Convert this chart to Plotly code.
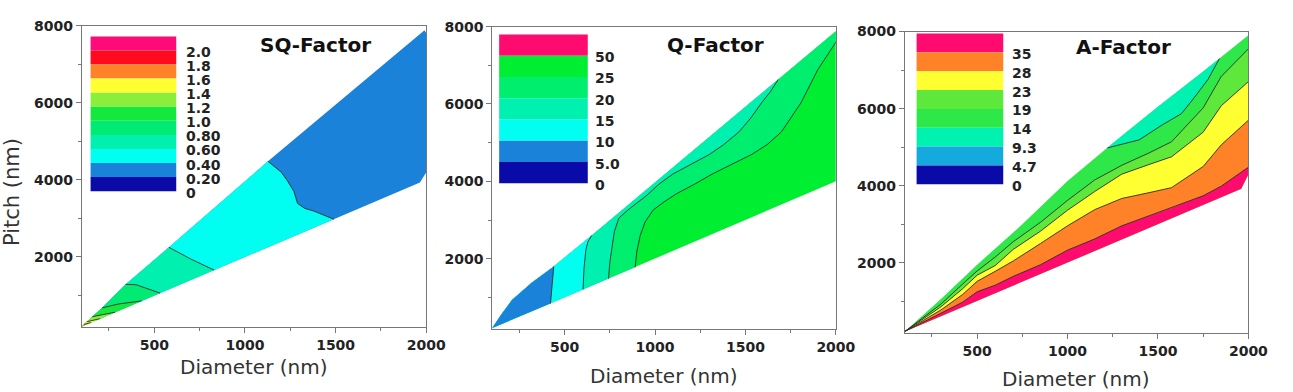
import plotly.graph_objects as go

# ---------------- data ----------------
X_RANGE = [100, 2000]
Y_RANGE = [175, 8000]
X_TICKS = [500, 1000, 1500, 2000]
Y_TICKS = [2000, 4000, 6000, 8000]

# Panel 1 : SQ-Factor  (wedge edges and contour lines, Diameter D / Pitch P)
SQ_UPPER_D = [100, 128, 159, 213, 343, 581, 1127, 1990, 2000]
SQ_UPPER_P = [200, 320, 450, 680, 1290, 2250, 4480, 7880, 7800]
SQ_LOWER_D = [100, 1965, 2000]
SQ_LOWER_P = [200, 3930, 4200]
SQ_C040_D = [1127, 1200, 1235, 1270, 1290, 1330, 1380, 1490]
SQ_C040_P = [4480, 4200, 3970, 3700, 3390, 3260, 3190, 2980]
SQ_C060_D = [581, 700, 830]
SQ_C060_P = [2250, 1950, 1660]
SQ_C080_D = [343, 400, 532]
SQ_C080_P = [1290, 1280, 1064]
SQ_C100_D = [213, 304, 430]
SQ_C100_P = [680, 782, 860]
SQ_C120_D = [159, 284]
SQ_C120_P = [450, 568]
SQ_C140_D = [128, 200]
SQ_C140_P = [320, 400]
SQ_C160_D = [112, 150]
SQ_C160_P = [250, 300]
SQ_LEVEL_LABELS = ["2.0", "1.8", "1.6", "1.4", "1.2", "1.0", "0.80", "0.60", "0.40", "0.20", "0"]

# Panel 2 : Q-Factor
Q_UPPER_D = [100, 150, 209, 318, 440, 650, 1000, 1500, 1681, 2000]
Q_UPPER_P = [210, 560, 930, 1380, 1800, 2600, 3970, 5925, 6632, 7880]
Q_LOWER_D = [100, 2000]
Q_LOWER_P = [210, 4000]
Q_C05_D = [440, 430, 422]
Q_C05_P = [1800, 1300, 844]
Q_C10_D = [650, 630, 618, 607, 602]
Q_C10_P = [2600, 2450, 2245, 1740, 1204]
Q_C15_D = [1681, 1640, 1589, 1530, 1463, 1380, 1300, 1200, 1098, 1020, 950, 850, 800, 775, 762, 750, 743]
Q_C15_P = [6632, 6330, 6030, 5640, 5273, 4950, 4693, 4440, 4188, 3920, 3620, 3260, 3050, 2700, 2300, 1900, 1486]
Q_C20_D = [2000, 1950, 1900, 1807, 1698, 1620, 1534, 1420, 1316, 1220, 1120, 1050, 989, 945, 918, 900, 890]
Q_C20_P = [7596, 7250, 6886, 6030, 5273, 4950, 4693, 4430, 4188, 3930, 3683, 3470, 3254, 2950, 2598, 2200, 1780]
Q_LEVEL_LABELS = ["50", "25", "20", "15", "10", "5.0", "0"]

# Panel 3 : A-Factor
A_UPPER_D = [100, 300, 500, 750, 1000, 1250, 1500, 1750, 2000]
A_UPPER_P = [220, 1060, 1950, 3000, 4120, 5100, 6050, 6960, 7900]
A_LOWER_D = [100, 1960, 2000]
A_LOWER_P = [220, 3920, 4300]
A_LINE_D = [100, 300, 420, 500, 600, 700, 850, 1000, 1150, 1300, 1450, 1575, 1750, 1850, 2000]
A_C35_P = [220, 700, 980, 1250, 1420, 1650, 1950, 2330, 2620, 2960, 3220, 3420, 3740, 3990, 4480]
A_C28_P = [220, 780, 1180, 1520, 1780, 2050, 2500, 2960, 3380, 3670, 3820, 3950, 4500, 5060, 5700]
A_C23_P = [220, 860, 1330, 1680, 1930, 2350, 2820, 3365, 3850, 4300, 4550, 4750, 5390, 6074, 6700]
A_C19_P = [220, 930, 1450, 1790, 2150, 2550, 3050, 3620, 4150, 4530, 4850, 5140, 6020, 6834, 7550]
A_C14_D = [1220, 1300, 1396, 1521, 1630, 1700, 1777, 1840]
A_C14_P = [4980, 5080, 5190, 5570, 5870, 6280, 6760, 7300]
A_LEVEL_LABELS = ["35", "28", "23", "19", "14", "9.3", "4.7", "0"]

# ---------------- styles ----------------
SQ_COLORS = ['#ff0a78', '#ff0a1e', '#ff8228', '#ffff32', '#8cee3c', '#14e83c',
             '#00ea74', '#00f0b0', '#00fff0', '#1a82d8', '#0a0aa8']
Q_COLORS = ['#ff0a6e', '#00ee32', '#00ee6e', '#00f0b0', '#00fff0', '#1a82d8', '#0a0aa8']
A_COLORS = ['#ff0a6e', '#ff8228', '#ffff32', '#5ee83c', '#2ee84a', '#00f2b0', '#14aade', '#0a0aa8']
LINE_COLOR = '#2e2e2e'
W, H = 1293, 392
FONT = 'DejaVu Sans'

fig = go.Figure()


def fill(xs, ys, color, ax):
    fig.add_trace(go.Scatter(x=xs, y=ys, fill='toself', fillcolor=color, mode='lines',
                             line=dict(width=0), hoverinfo='skip', showlegend=False,
                             xaxis=ax[0], yaxis=ax[1]))


def line(xs, ys, ax):
    fig.add_trace(go.Scatter(x=xs, y=ys, mode='lines',
                             line=dict(color=LINE_COLOR, width=0.9),
                             hoverinfo='skip', showlegend=False, xaxis=ax[0], yaxis=ax[1]))


def wedge(ud, up, ld, lp):
    return list(ud) + list(ld[::-1]), list(up) + list(lp[::-1])


def left_of(ud, up, cd, cp):
    xs = [d for d in ud if d <= cd[0]] + list(cd) + [ud[0]]
    ys = [p for d, p in zip(ud, up) if d <= cd[0]] + list(cp) + [up[0]]
    return xs, ys


def below(ld, lp, cd, cp):
    return list(ld) + list(cd[::-1]), list(lp) + list(cp[::-1])


# ---- panel 1
ax1 = ('x', 'y')
fill(*wedge(SQ_UPPER_D, SQ_UPPER_P, SQ_LOWER_D, SQ_LOWER_P), SQ_COLORS[9], ax1)
sq_lines = [(SQ_C040_D, SQ_C040_P), (SQ_C060_D, SQ_C060_P), (SQ_C080_D, SQ_C080_P),
            (SQ_C100_D, SQ_C100_P), (SQ_C120_D, SQ_C120_P), (SQ_C140_D, SQ_C140_P),
            (SQ_C160_D, SQ_C160_P)]
for i, (cd, cp) in enumerate(sq_lines):
    fill(*left_of(SQ_UPPER_D, SQ_UPPER_P, cd, cp), SQ_COLORS[8 - i], ax1)
for cd, cp in sq_lines:
    line(cd, cp, ax1)

# ---- panel 2
ax2 = ('x2', 'y2')
fill(*wedge(Q_UPPER_D, Q_UPPER_P, Q_LOWER_D, Q_LOWER_P), Q_COLORS[1], ax2)
q_lines = [(Q_C20_D, Q_C20_P), (Q_C15_D, Q_C15_P), (Q_C10_D, Q_C10_P), (Q_C05_D, Q_C05_P)]
for i, (cd, cp) in enumerate(q_lines):
    fill(*left_of(Q_UPPER_D, Q_UPPER_P, cd, cp), Q_COLORS[2 + i], ax2)
for cd, cp in q_lines:
    line(cd, cp, ax2)

# ---- panel 3
ax3 = ('x3', 'y3')
fill(*wedge(A_UPPER_D, A_UPPER_P, A_LOWER_D, A_LOWER_P), A_COLORS[4], ax3)
aq_x = list(A_C14_D) + [d for d in A_UPPER_D if A_C14_D[0] < d < A_C14_D[-1]][::-1]
aq_y = list(A_C14_P) + [p for d, p in zip(A_UPPER_D, A_UPPER_P) if A_C14_D[0] < d < A_C14_D[-1]][::-1]
fill(aq_x, aq_y, A_COLORS[5], ax3)
a_lines = [A_C19_P, A_C23_P, A_C28_P, A_C35_P]
for i, cp in enumerate(a_lines):
    fill(*below(A_LOWER_D, A_LOWER_P, A_LINE_D, cp), A_COLORS[3 - i], ax3)
line(A_C14_D, A_C14_P, ax3)
for cp in a_lines:
    line(A_LINE_D, cp, ax3)

# ---------------- layout ----------------
panels = [  # (x0, x1, ytop, ybottom) in pixels
    (83, 433, 18, 326),
    (500, 849, 19, 328),
    (919, 1268, 24, 332),
]

tickfont = dict(family=FONT, size=14, color='#222', weight='bold')
axis_common = dict(showline=True, linecolor='#777', linewidth=1, mirror=True,
                   ticks='outside', ticklen=5, tickcolor='#777', showgrid=False,
                   zeroline=False, tickfont=tickfont)

layout = dict(width=W, height=H, margin=dict(l=0, r=0, t=0, b=0),
              paper_bgcolor='white', plot_bgcolor='white', showlegend=False)
for i, (x0, x1, yt, yb) in enumerate(panels):
    sfx = '' if i == 0 else str(i + 1)
    layout['xaxis' + sfx] = dict(axis_common, domain=[x0 / W, x1 / W], range=X_RANGE,
                                 tickvals=X_TICKS, anchor='y' + sfx,
                                 minor=dict(ticks='outside', ticklen=3, dtick=250, tick0=0,
                                            tickcolor='#777'))
    layout['yaxis' + sfx] = dict(axis_common, domain=[1 - yb / H, 1 - yt / H], range=Y_RANGE,
                                 tickvals=Y_TICKS, anchor='x' + sfx,
                                 minor=dict(ticks='outside', ticklen=3, dtick=1000, tick0=0,
                                            tickcolor='#777'))
fig.update_layout(**layout)

shapes, annos = [], []


def px(x, y):
    return x / W, 1 - y / H


# colour-key blocks
keys = [
    (SQ_COLORS, SQ_LEVEL_LABELS, 92, 179, 29, 187, 187),
    (Q_COLORS, Q_LEVEL_LABELS, 507, 597, 27, 179, 602),
    (A_COLORS, A_LEVEL_LABELS, 931, 1019, 26, 180, 1026),
]
for colors, labels, kx0, kx1, ky0, ky1, lx in keys:
    n = len(colors)
    h = (ky1 - ky0) / n
    for k, c in enumerate(colors):
        a, b = px(kx0, ky0 + k * h)
        a2, b2 = px(kx1, ky0 + (k + 1) * h)
        shapes.append(dict(type='rect', xref='paper', yref='paper', x0=a, x1=a2, y0=b2, y1=b,
                           fillcolor=c, line=dict(width=0), layer='above'))
    for k, lab in enumerate(labels):
        xx, yy = px(lx, ky0 + (k + 1) * h + 1.5)
        annos.append(dict(x=xx, y=yy, xref='paper', yref='paper', text=lab, showarrow=False,
                          xanchor='left', yanchor='middle',
                          font=dict(family=FONT, size=14, color='#222', weight='bold')))

# panel titles
for text, cx, cy in [("SQ-Factor", 320, 38), ("Q-Factor", 727, 38), ("A-Factor", 1141, 40)]:
    xx, yy = px(cx, cy)
    annos.append(dict(x=xx, y=yy, xref='paper', yref='paper', text=text, showarrow=False,
                      xanchor='center', yanchor='middle',
                      font=dict(family=FONT, size=20, color='#111', weight='bold')))

# axis titles
for cx, cy in [(258, 366), (674, 376), (1093, 379)]:
    xx, yy = px(cx, cy)
    annos.append(dict(x=xx, y=yy, xref='paper', yref='paper', text="Diameter (nm)",
                      showarrow=False, xanchor='center', yanchor='middle',
                      font=dict(family=FONT, size=20, color='#333')))
xx, yy = px(12, 188)
annos.append(dict(x=xx, y=yy, xref='paper', yref='paper', text="Pitch (nm)", textangle=-90,
                  showarrow=False, xanchor='center', yanchor='middle',
                  font=dict(family=FONT, size=21, color='#333')))

fig.update_layout(shapes=shapes, annotations=annos)
fig.write_html("out.html")
